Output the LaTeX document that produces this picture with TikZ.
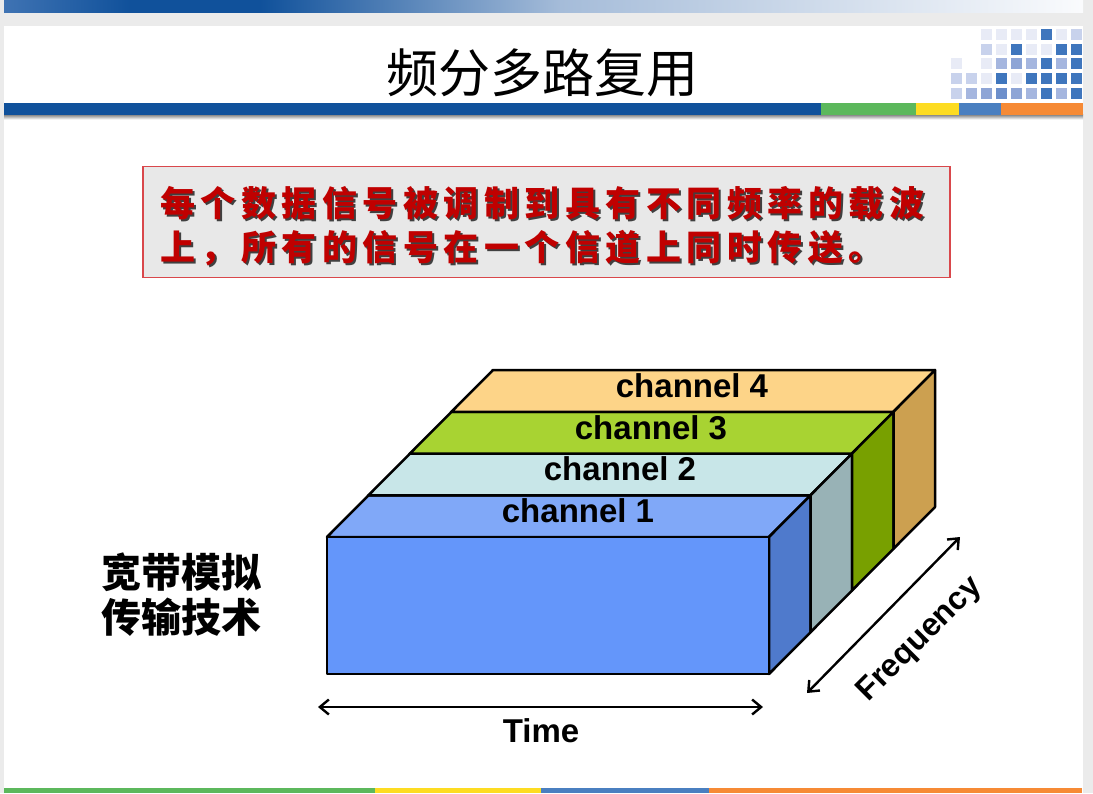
\documentclass[tikz,border=0pt]{standalone}
\usepackage{fontspec}
\setmainfont{Liberation Sans}
\newfontfamily\cjk{Noto Sans CJK SC}
\newfontfamily\redcjk[LetterSpace=15.7]{Noto Sans CJK SC}
\usetikzlibrary{arrows.meta}

% slide palette
\definecolor{pagegrey}{HTML}{EBEBEB}
\definecolor{barblue}{HTML}{10519B}
\definecolor{barstart}{HTML}{3F73B3}
\definecolor{barmid}{HTML}{A5BCD9}
\definecolor{barend}{HTML}{FAFBFD}
\definecolor{accgreen}{HTML}{5CB85C}
\definecolor{accyellow}{HTML}{FDDC22}
\definecolor{accblue}{HTML}{4A7FC0}
\definecolor{accorange}{HTML}{F68A35}
\definecolor{boxred}{HTML}{D9474B}
\definecolor{boxfill}{HTML}{E8E8E8}
\definecolor{textred}{HTML}{C00000}
% logo squares
\definecolor{sqD}{HTML}{3F76BD}
\definecolor{sqX}{HTML}{6D8FCB}
\definecolor{sqM}{HTML}{8EA5D6}
\definecolor{sqN}{HTML}{A5B6DF}
\definecolor{sqL}{HTML}{C8D2EC}
\definecolor{sqV}{HTML}{E8EBF6}
% channel faces
\definecolor{frontA}{HTML}{6496FA}
\definecolor{topA}{HTML}{80A8F8}
\definecolor{sideA}{HTML}{4F7ACC}
\definecolor{topB}{HTML}{C8E6E8}
\definecolor{sideB}{HTML}{98B2B6}
\definecolor{topC}{HTML}{A8D332}
\definecolor{sideC}{HTML}{78A000}
\definecolor{topD}{HTML}{FDD488}
\definecolor{sideD}{HTML}{CCA050}

\tikzset{
  face/.style={draw=black, line width=2.5pt, line join=round},
  chlabel/.style={font=\fontsize{33}{38}\selectfont\bfseries, inner sep=0pt},
  axisarrow/.style={line width=2.4pt, {Straight Barb[length=9pt,width=15pt]}-{Straight Barb[length=9pt,width=15pt]}},
  redline/.style={font=\redcjk\bfseries\fontsize{35}{40}\selectfont, anchor=west, inner sep=0pt},
}

\begin{document}
\begin{tikzpicture}[x=1pt,y=-1pt]
\useasboundingbox (0,0) rectangle (1093,793);
\fill[pagegrey] (0,0) rectangle (1093,793);

% top gradient strip
\shade[left color=barstart, right color=barblue] (4,0) rectangle (130.5,12.7);
\fill[barblue] (130,0) rectangle (260.5,12.7);
\shade[left color=barblue, right color=barmid] (260,0) rectangle (560.5,12.7);
\shade[left color=barmid, right color=barend] (560,0) rectangle (1083,12.7);

% white page
\fill[white] (4,26) rectangle (1083,793);

% title
\node[font=\cjk\fontsize{52}{60}\selectfont, inner sep=0pt] (title) at (542,73) {频分多路复用};

% logo squares
\foreach \c/\r/\col in {
  2/0/sqV,3/0/sqV,4/0/sqV,5/0/sqV,6/0/sqD,7/0/sqV,8/0/sqL,
  2/1/sqL,3/1/sqV,4/1/sqD,5/1/sqV,6/1/sqV,7/1/sqD,8/1/sqD,
  0/2/sqV,2/2/sqV,3/2/sqN,4/2/sqM,5/2/sqN,6/2/sqD,7/2/sqN,8/2/sqD,
  0/3/sqL,1/3/sqL,2/3/sqV,3/3/sqD,4/3/sqV,5/3/sqD,6/3/sqD,7/3/sqD,8/3/sqD,
  0/4/sqL,1/4/sqN,2/4/sqM,3/4/sqX,4/4/sqM,5/4/sqN,6/4/sqD,7/4/sqN,8/4/sqD}
  \fill[\col] ({951+15*\c},{29+14.7*\r}) rectangle ++(10.6,10.8);

% title rule with accent blocks
\shade[top color=black!55, bottom color=white] (4,114) rectangle (1083,119.5);
\fill[barblue] (4,103) rectangle (821,115);
\fill[accgreen] (821,103) rectangle (916,115);
\fill[accyellow] (916,103) rectangle (959,115);
\fill[accblue] (959,103) rectangle (1001,115);
\fill[accorange] (1001,103) rectangle (1083,115);

% bottom rule
\fill[accgreen] (4,788) rectangle (375,793);
\fill[accyellow] (375,788) rectangle (541,793);
\fill[accblue] (541,788) rectangle (709,793);
\fill[accorange] (709,788) rectangle (1082,793);

% statement box
\node[draw=boxred, fill=boxfill, line width=1.5pt, minimum width=807pt, minimum height=111pt, inner sep=0pt] (note) at (546.5,222) {};
\node[redline, text=black!75] (l1s) at (162,205) {每个数据信号被调制到具有不同频率的载波};
\node[redline, text=textred] (l1) at (160,203) {每个数据信号被调制到具有不同频率的载波};
\node[redline, text=black!75] (l2s) at (162,250) {上，所有的信号在一个信道上同时传送。};
\node[redline, text=textred] (l2) at (160,248) {上，所有的信号在一个信道上同时传送。};

% side caption
\node[font=\cjk\bfseries\fontsize{40}{45}\selectfont, align=left, inner sep=0pt] (caption) at (181,595) {宽带模拟\\传输技术};

% channel block corners: front at k=0, each channel one depth step back
\foreach \k in {0,...,4} {
  \coordinate (TL\k) at ({327+41.5*\k},{537-41.75*\k});
  \coordinate (TR\k) at ({769+41.5*\k},{537-41.75*\k});
  \coordinate (BR\k) at ({769+41.5*\k},{674-41.75*\k});
}
\coordinate (BL0) at (327,674);

% top faces
\path[face, fill=topA] (TL0) -- (TR0) -- (TR1) -- (TL1) -- cycle;
\path[face, fill=topB] (TL1) -- (TR1) -- (TR2) -- (TL2) -- cycle;
\path[face, fill=topC] (TL2) -- (TR2) -- (TR3) -- (TL3) -- cycle;
\path[face, fill=topD] (TL3) -- (TR3) -- (TR4) -- (TL4) -- cycle;
% side faces
\path[face, fill=sideA] (TR0) -- (TR1) -- (BR1) -- (BR0) -- cycle;
\path[face, fill=sideB] (TR1) -- (TR2) -- (BR2) -- (BR1) -- cycle;
\path[face, fill=sideC] (TR2) -- (TR3) -- (BR3) -- (BR2) -- cycle;
\path[face, fill=sideD] (TR3) -- (TR4) -- (BR4) -- (BR3) -- cycle;
% front face
\path[face, fill=frontA] (TL0) -- (TR0) -- (BR0) -- (BL0) -- cycle;

\node[chlabel] (ch1) at (578,511) {channel 1};
\node[chlabel] (ch2) at (620,469) {channel 2};
\node[chlabel] (ch3) at (651,428) {channel 3};
\node[chlabel] (ch4) at (692,386) {channel 4};

% axes
\coordinate (tA) at (318,707);
\coordinate (tB) at (763,707);
\draw[axisarrow] (tA) -- (tB);
\node[chlabel] (time) at (541,731) {Time};

\coordinate (fA) at (807,693);
\coordinate (fB) at (960,537);
\draw[axisarrow] (fA) -- (fB);
\node[chlabel, font=\fontsize{32}{38}\selectfont\bfseries, rotate=45] (freq) at (920,640) {Frequency};
\end{tikzpicture}
\end{document}
